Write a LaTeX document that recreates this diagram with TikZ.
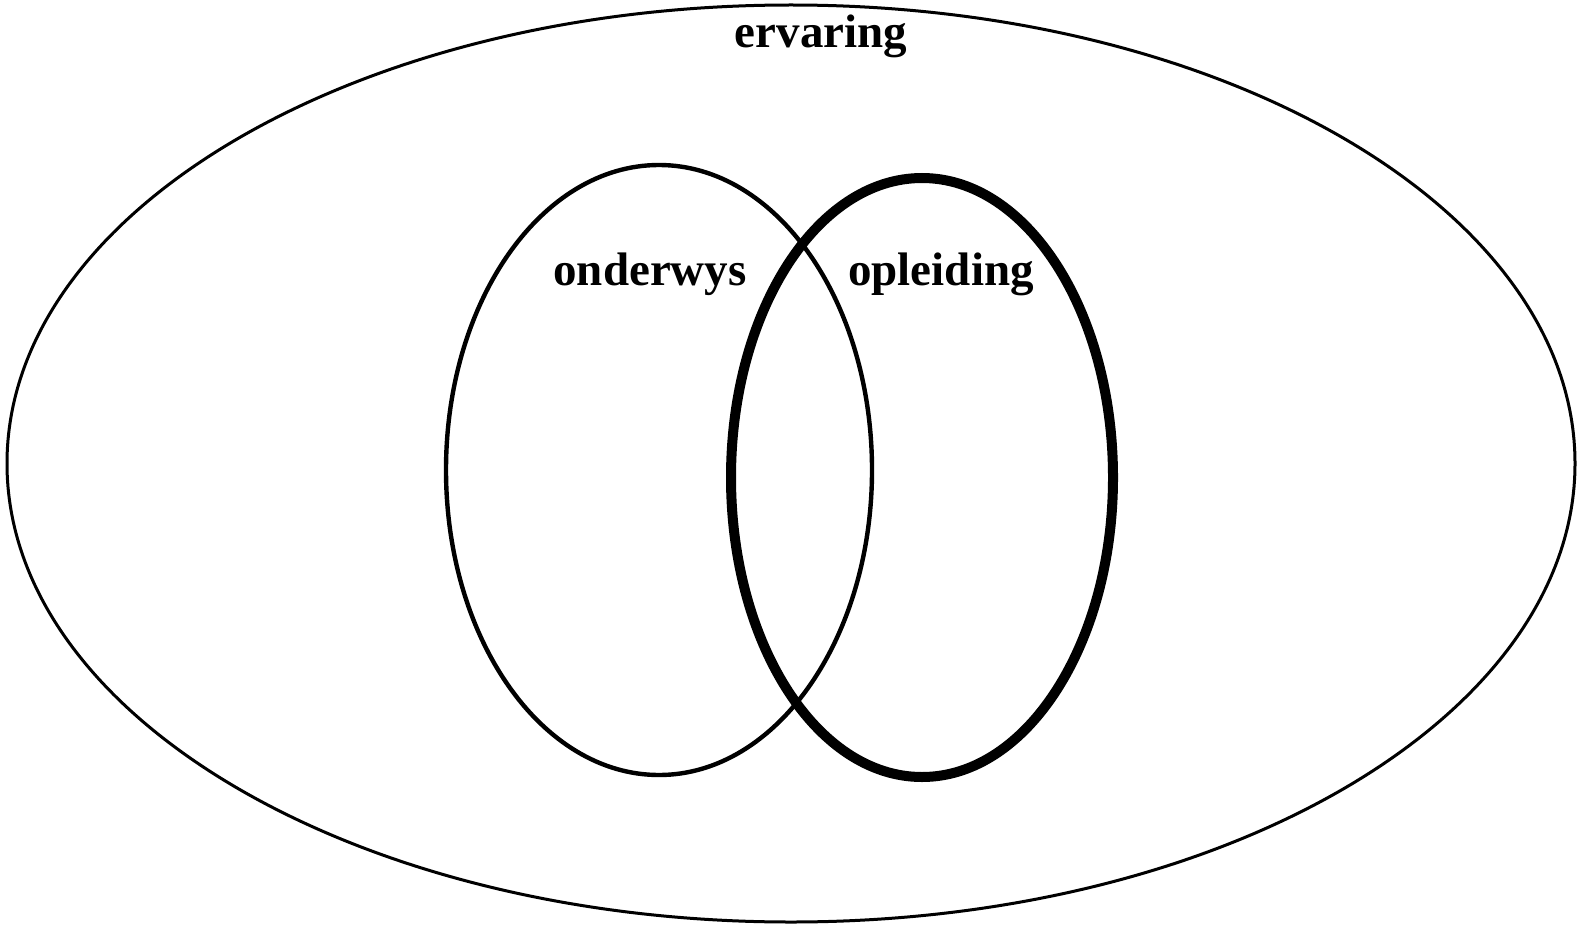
\documentclass[tikz,border=0pt]{standalone}
\usepackage{fontspec}
\setmainfont{Liberation Serif}
\usetikzlibrary{shapes.geometric}
\begin{document}
\begin{tikzpicture}[x=0.5pt,y=-0.5pt,
  oval/.style={draw=black,ellipse,inner sep=0pt,fill=none},
  label/.style={anchor=base,inner sep=0pt,font=\fontsize{23.5}{28}\selectfont\bfseries}]
  \useasboundingbox[fill=white] (0,0) rectangle (1577,925);
  % outer set
  \node[oval,line width=1.5pt,minimum width=784pt,minimum height=458.5pt] (ervaring) at (791,463.5) {};
  % the two overlapping sets
  \node[oval,line width=2.2pt,minimum width=213pt,minimum height=305pt] (onderwys) at (659,470) {};
  \node[oval,line width=5pt,minimum width=191pt,minimum height=299.5pt] (opleiding) at (922,477.5) {};
  % labels
  \node[label] (tervaring) at (821,48) {ervaring};
  \node[label] (tonderwys) at (650,285) {onderwys};
  \node[label] (topleiding) at (941,285) {opleiding};
\end{tikzpicture}
\end{document}
